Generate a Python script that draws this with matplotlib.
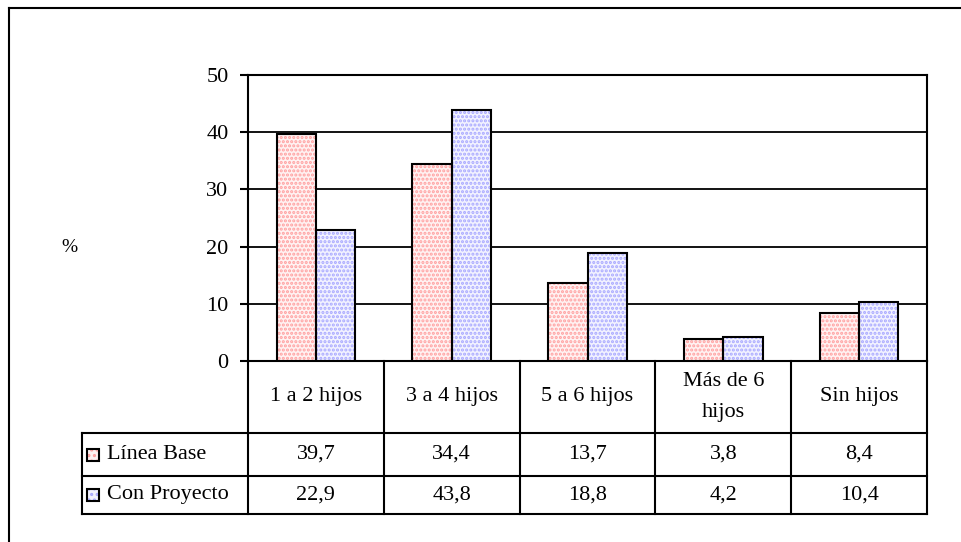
import matplotlib
matplotlib.use("Agg")
import matplotlib.pyplot as plt
import matplotlib.transforms as mtransforms
from matplotlib.lines import Line2D
from matplotlib.patches import Rectangle

categories = ["1 a 2 hijos", "3 a 4 hijos", "5 a 6 hijos", "Más de 6\nhijos", "Sin hijos"]
linea_base = [39.7, 34.4, 13.7, 3.8, 8.4]
con_proyecto = [22.9, 43.8, 18.8, 4.2, 10.4]
series_names = ["Línea Base", "Con Proyecto"]
yticks = [0, 10, 20, 30, 40, 50]

def fmt(v):
    return f"{v:.1f}".replace(".", ",")

plt.rcParams['font.family'] = ['Liberation Serif', 'DejaVu Serif']
plt.rcParams['hatch.linewidth'] = 1.5
FS = 16

W, H = 961, 542
fig = plt.figure(figsize=(W / 100, H / 100), dpi=100)
fig.patch.set_facecolor("white")

def px_axes(l, t, r, b):
    return [l / W, 1 - b / H, (r - l) / W, (b - t) / H]

ax = fig.add_axes(px_axes(248, 75, 927, 361))
n = len(categories)
ax.set_xlim(-0.5, n - 0.5)
ax.set_ylim(0, 50)

face = {"Línea Base": "#fff2f2", "Con Proyecto": "#f2f2ff"}
dots = {"Línea Base": "#ffa0a0", "Con Proyecto": "#a8a8ff"}
bw = 0.29
xs = list(range(n))
for name, vals, off in [(series_names[0], linea_base, -bw), (series_names[1], con_proyecto, 0.0)]:
    pos = [x + off for x in xs]
    ax.bar(pos, vals, width=bw, align="edge", color=face[name], edgecolor=dots[name],
           hatch="....", linewidth=0, zorder=3)
    ax.bar(pos, vals, width=bw, align="edge", facecolor="none", edgecolor="black",
           linewidth=1.5, zorder=4)

ax.set_yticks(yticks)
ax.set_yticklabels([str(t) for t in yticks], fontsize=FS)
ax.set_xticks([])
ax.yaxis.grid(True, color="black", linewidth=1.3, zorder=1)
ax.set_axisbelow(True)
for s in ["left", "right", "top", "bottom"]:
    ax.spines[s].set_linewidth(1.5)
    ax.spines[s].set_color("black")
ax.tick_params(axis="y", length=6, width=1.5, pad=8, colors="black")

# "%" label
fig.text(69 / W, 1 - 248 / H, "%", fontsize=FS - 2, ha="center", va="center")

# Data table below the axes
tr = mtransforms.blended_transform_factory(ax.transData, ax.transAxes)
ph = 361 - 75
def yf(py):
    return (361 - py) / ph

label_left = -0.5 - (248 - 82) / (679 / n)
y_cat_bot = yf(433)
y_r1_bot = yf(476)
y_r2_bot = yf(514)
lw = 1.5

def hline(x0, x1, y):
    ax.add_line(Line2D([x0, x1], [y, y], transform=tr, color="black", lw=lw, clip_on=False))

def vline(x, y0, y1):
    ax.add_line(Line2D([x, x], [y0, y1], transform=tr, color="black", lw=lw, clip_on=False))

hline(label_left, n - 0.5, y_cat_bot)
hline(label_left, n - 0.5, y_r1_bot)
hline(label_left, n - 0.5, y_r2_bot)
for i in range(n + 1):
    vline(i - 0.5, 0, y_r2_bot)
vline(label_left, y_cat_bot, y_r2_bot)

for i, c in enumerate(categories):
    ax.text(i, (0 + y_cat_bot) / 2, c, transform=tr, ha="center", va="center",
            fontsize=FS, linespacing=1.8)
    ax.text(i, (y_cat_bot + y_r1_bot) / 2, fmt(linea_base[i]), transform=tr,
            ha="center", va="center", fontsize=FS)
    ax.text(i, (y_r1_bot + y_r2_bot) / 2, fmt(con_proyecto[i]), transform=tr,
            ha="center", va="center", fontsize=FS)

# legend keys in table
unit = 679 / n
for row, (name, ylo, yhi) in enumerate([(series_names[0], y_cat_bot, y_r1_bot),
                                         (series_names[1], y_r1_bot, y_r2_bot)]):
    ym = (ylo + yhi) / 2
    kx = label_left + 5 / unit
    kw = 12 / unit
    kh = 12 / ph
    ax.add_patch(Rectangle((kx, ym - kh / 2), kw, kh, transform=tr, facecolor=face[name],
                           edgecolor=dots[name], hatch="...", lw=0, clip_on=False))
    ax.add_patch(Rectangle((kx, ym - kh / 2), kw, kh, transform=tr, facecolor="none",
                           edgecolor="black", lw=1.5, clip_on=False))
    ax.text(label_left + 25 / unit, ym, name, transform=tr, ha="left", va="center", fontsize=FS)

# outer frame
fig.add_artist(Line2D([9 / W, 9 / W], [0, 1 - 8 / H], color="black", lw=1.5))
fig.add_artist(Line2D([9 / W, 1], [1 - 8 / H, 1 - 8 / H], color="black", lw=1.5))

fig.savefig("out.png", dpi=100)
